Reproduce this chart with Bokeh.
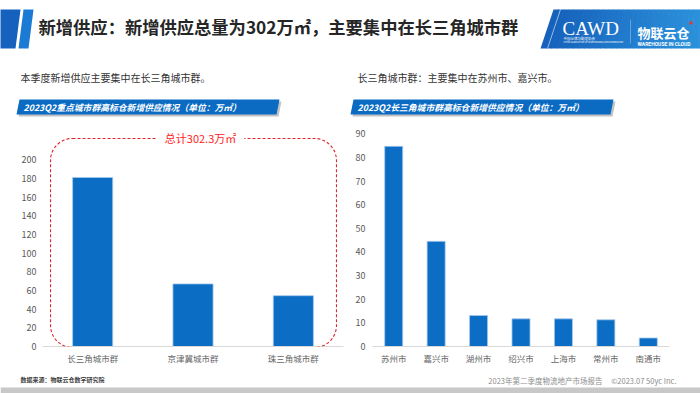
from bokeh.plotting import figure
from bokeh.models import Range1d, FactorRange, BoxAnnotation, Label, FixedTicker
from bokeh.layouts import column, row
from bokeh.embed import file_html
from bokeh.resources import INLINE
from bokeh.core.properties import value

# ---------------- data ----------------
cluster_names = ["长三角城市群", "京津冀城市群", "珠三角城市群"]
cluster_supply = [180.9, 67.0, 54.4]
city_names = ["苏州市", "嘉兴市", "湖州市", "绍兴市", "上海市", "常州市", "南通市"]
city_supply = [84.7, 44.5, 13.1, 11.7, 11.7, 11.3, 3.6]
left_ticks = [0, 20, 40, 60, 80, 100, 120, 140, 160, 180, 200]
right_ticks = [0, 10, 20, 30, 40, 50, 60, 70, 80, 90]

title_text = "新增供应：新增供应总量为302万㎡，主要集中在长三角城市群"
left_note = "本季度新增供应主要集中在长三角城市群。"
right_note = "长三角城市群：主要集中在苏州市、嘉兴市。"
left_banner = "2023Q2重点城市群高标仓新增供应情况（单位：万㎡）"
right_banner = "2023Q2长三角城市群高标仓新增供应情况（单位：万㎡）"
source_text = "数据来源：物联云仓数字研究院"
report_text = "2023年第二季度物流地产市场报告"
copy_text = "©2023.07 50yc Inc."

FONT = "Noto Sans CJK SC"
BAR = "#0B6DC4"
GRAY = "#595959"


def canvas(w, h, x0, x1, y0, y1):
    f = figure(width=w, height=h, x_range=Range1d(x0, x1), y_range=Range1d(y1, y0),
               output_backend="svg", toolbar_location=None, min_border=0,
               x_axis_location=None, y_axis_location=None)
    f.grid.visible = False
    f.outline_line_color = None
    f.background_fill_color = "white"
    return f


def lerp_color(c0, c1, t):
    a = [int(c0[i:i + 2], 16) for i in (1, 3, 5)]
    b = [int(c1[i:i + 2], 16) for i in (1, 3, 5)]
    return "#%02x%02x%02x" % tuple(int(round(a[k] + (b[k] - a[k]) * t)) for k in range(3))


# ---------------- header ----------------
head = canvas(700, 125, 0, 700, 0, 125)
head.patch(x=[-5, 20, 15, -5], y=[9, 9, 48, 48], color="#1561bd", line_color=None)
head.patch(x=[23, 33, 28, 18], y=[9, 9, 48, 48], color="#1a7ad4", line_color=None)
head.text(x=[38], y=[25.5], text=[title_text], text_font=value(FONT), text_font_size="17.3px",
          text_font_style="bold", text_color="#262626", text_baseline="middle")

# logo panel with gradient
N = 30
xs, ys, cs = [], [], []
for i in range(N):
    t0, t1 = i / N, (i + 1) / N
    xs.append([553 + t0 * 150, 553 + t1 * 150 + 0.6, 540 + t1 * 163 + 0.6, 540 + t0 * 163])
    ys.append([9, 9, 48, 48])
    cs.append(lerp_color("#1560bb", "#2c93dc", (i + 0.5) / N))
head.patches(xs=xs, ys=ys, fill_color=cs, line_color=None)
head.line(x=[560, 547], y=[9, 48], line_color="white", line_alpha=0.7, line_width=0.8)
head.text(x=[562], y=[28], text=["CAWD"], text_font=value("Liberation Serif"),
          text_font_size="19px", text_color="white", text_baseline="middle")
head.text(x=[563], y=[38], text=["中国仓储与配送协会"], text_font=value(FONT),
          text_font_size="3.5px", text_color="white", text_baseline="middle")
head.text(x=[563], y=[41.5], text=["CHINA ASSOCIATION OF WAREHOUSES AND DISTRIBUTION"],
          text_font=value(FONT), text_font_size="2.2px", text_color="white", text_baseline="middle")
head.line(x=[630, 630], y=[19, 43], line_color="white", line_alpha=0.5, line_width=0.6)
head.text(x=[637], y=[32], text=["物联云仓"], text_font=value(FONT), text_font_size="13px",
          text_font_style="bold", text_color="white", text_baseline="middle")
head.text(x=[637], y=[43], text=["WAREHOUSE IN CLOUD"], text_font=value("Roboto"),
          text_font_size="5px", text_font_style="bold", text_color="white", text_baseline="middle")
head.quad(left=[689], right=[692], top=[21], bottom=[24], color="#e53935", line_color=None)

# notes
head.text(x=[20, 357], y=[77, 77], text=[left_note, right_note], text_font=value(FONT),
          text_font_size="10px", text_color="#333333", text_baseline="middle")

# banners
head.patches(xs=[[21, 281, 278, 18], [355, 615, 612, 352]], ys=[[101, 101, 116, 116], [101, 101, 116, 116]],
             color="#9a9a9a", alpha=0.6, line_color=None)
head.patches(xs=[[19, 279, 276, 16], [353, 613, 610, 350]], ys=[[99, 99, 114, 114], [99, 99, 114, 114]],
             color="#0B6BC3", line_color=None)
head.text(x=[23, 357], y=[106.8, 106.8], text=[left_banner, right_banner], text_font=value(FONT),
          text_font_size="8.8px", text_font_style="bold italic", text_color="white", text_baseline="middle")


def style_chart(f, ticks, ystand):
    f.xgrid.visible = False
    f.ygrid.visible = False
    f.outline_line_color = None
    f.yaxis.ticker = FixedTicker(ticks=ticks)
    for ax in (f.xaxis[0], f.yaxis[0]):
        ax.major_tick_line_color = None
        ax.minor_tick_line_color = None
        ax.major_tick_out = 0
        ax.major_tick_in = 0
        ax.major_label_text_color = GRAY
        ax.major_label_text_font = FONT
    f.yaxis.major_label_text_font_size = "9px"
    f.xaxis.major_label_text_font_size = "8.5px"
    f.xaxis.major_label_text_color = "#666666"
    f.yaxis.axis_line_color = None
    f.yaxis.major_label_standoff = ystand
    f.xaxis.axis_line_color = "#d9d9d9"
    f.xaxis.major_label_standoff = 5


# ---------------- left chart ----------------
left = figure(width=350, height=241, x_range=FactorRange(factors=cluster_names), y_range=Range1d(0, 231.2),
              output_backend="svg", toolbar_location=None,
              min_border_left=42, min_border_right=7, min_border_top=5, min_border_bottom=19)
left.vbar(x=cluster_names, top=cluster_supply, width=0.4, fill_color=BAR, line_color="#a8c9ec", line_width=0.8)
style_chart(left, left_ticks, 6)
total = sum(cluster_supply)
left.add_layout(BoxAnnotation(left=0.08, right=2.93, top=222.7, bottom=-1.0, fill_color=None, fill_alpha=0,
                              line_color="#E0262C", line_alpha=1.0, line_dash="3 2", line_width=1.1,
                              border_radius=22))
left.add_layout(Label(x=1.575, y=222.7, text=f"总计{total:.1f}万㎡", text_align="center",
                      text_baseline="middle", text_color="#FF2222", text_font=FONT, text_font_size="11px",
                      background_fill_color="white", padding=8))

# ---------------- right chart ----------------
right = figure(width=350, height=241, x_range=FactorRange(factors=city_names), y_range=Range1d(0, 91.4),
               output_backend="svg", toolbar_location=None,
               min_border_left=22, min_border_right=31, min_border_top=5, min_border_bottom=19)
right.vbar(x=city_names, top=city_supply, width=0.425, fill_color=BAR, line_color="#a8c9ec", line_width=0.8)
style_chart(right, right_ticks, 7)

# ---------------- footer ----------------
foot = canvas(700, 27, 0, 700, 366, 393)
foot.text(x=[20], y=[379], text=[source_text], text_font=value(FONT), text_font_size="6px",
          text_font_style="bold", text_color="#404040", text_baseline="middle")
foot.text(x=[602, 676], y=[379.5, 379.5], text=[report_text, copy_text], text_font=value(FONT),
          text_font_size="7.5px", text_color="#8c8c8c", text_baseline="middle", text_align="right")
foot.quad(left=[0], right=[700], top=[387], bottom=[394], color="#c8c8c8", line_color=None)

layout = column(head, row(left, right), foot)
open("out.html", "w").write(file_html(layout, INLINE))
